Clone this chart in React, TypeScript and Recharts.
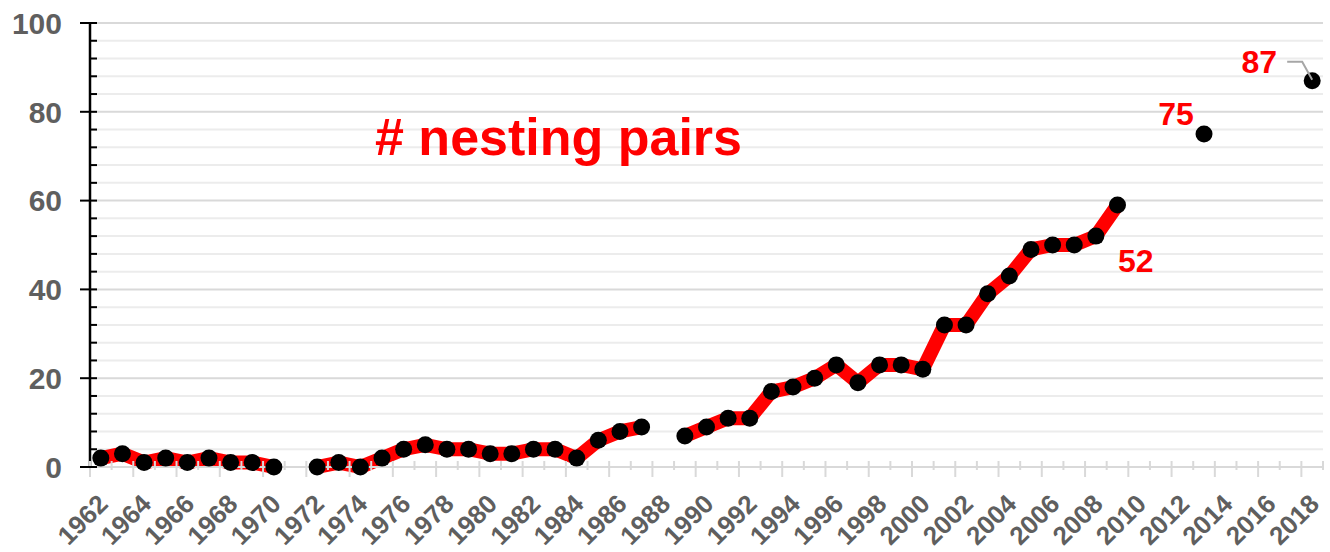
import { CartesianGrid, LabelList, Line, LineChart, XAxis, YAxis } from "recharts";

const years = [
  "1962", "1963", "1964", "1965", "1966", "1967", "1968", "1969", "1970", "1971",
  "1972", "1973", "1974", "1975", "1976", "1977", "1978", "1979", "1980", "1981",
  "1982", "1983", "1984", "1985", "1986", "1987", "1988", "1989", "1990", "1991",
  "1992", "1993", "1994", "1995", "1996", "1997", "1998", "1999", "2000", "2001",
  "2002", "2003", "2004", "2005", "2006", "2007", "2008", "2009", "2010", "2011",
  "2012", "2013", "2014", "2015", "2016", "2017", "2018",
];

// nesting pairs per year, null = no count that year
const pairs: Array<number | null> = [
  2, 3, 1, 2, 1, 2, 1, 1, 0, null,
  0, 1, 0, 2, 4, 5, 4, 4, 3, 3,
  4, 4, 2, 6, 8, 9, null, 7, 9, 11,
  11, 17, 18, 20, 23, 19, 23, 23, 22, 32,
  32, 39, 43, 49, 50, 50, 52, 59, null, null,
  null, 75, null, null, null, null, 87,
];

const yTicks = [0, 4, 8, 12, 16, 20, 24, 28, 32, 36, 40, 44, 48, 52, 56, 60, 64, 68, 72, 76, 80, 84, 88, 92, 96, 100];
const majorGrid = [20, 40, 60, 80, 100];
const minorGrid = [4, 8, 12, 16, 24, 28, 32, 36, 44, 48, 52, 56, 64, 68, 72, 76, 84, 88, 92, 96];

const data = years.map((year, i) => ({ year, pairs: pairs[i] }));

const FONT = "'Liberation Sans', Arial, sans-serif";
const GRAY = "#5f5f5f";
const RED = "#ff0000";

// where the value labels sit relative to their dot
const labelPlacement: Record<string, { dx: number; dy: number; leader?: boolean }> = {
  "2008": { dx: 40, dy: 36 },
  "2013": { dx: -28, dy: -9 },
  "2018": { dx: -53, dy: -8, leader: true },
};

function YTick({ x, y, payload }: any) {
  const major = payload.value % 20 === 0;
  return (
    <g>
      <line x1={major ? x - 10 : x} x2={x + 7} y1={y} y2={y} stroke="#000" strokeWidth={2} />
      {major && (
        <text x={x - 28} y={y} dy="0.36em" textAnchor="end" fill={GRAY}
          style={{ fontFamily: FONT, fontWeight: 700, fontSize: 30 }}>
          {payload.value}
        </text>
      )}
    </g>
  );
}

function XTick({ x, y, payload, index }: any) {
  const half = payload.offset ?? 0;
  const even = index % 2 === 0;
  const last = index === years.length - 1;
  const lx = x + 2;
  const ly = y + 32;
  return (
    <g>
      <line x1={x - half} x2={x - half} y1={y - 6} y2={even ? y + 10 : y + 3} stroke="#d9d9d9" strokeWidth={2} />
      {last && (
        <line x1={x + half} x2={x + half} y1={y - 6} y2={even ? y + 3 : y + 10} stroke="#d9d9d9" strokeWidth={2} />
      )}
      {even && (
        <text x={lx} y={ly} dy="0.36em" textAnchor="end" fill={GRAY} transform={`rotate(-45, ${lx}, ${ly})`}
          style={{ fontFamily: FONT, fontWeight: 700, fontSize: 26 }}>
          {payload.value}
        </text>
      )}
    </g>
  );
}

function PointLabel(props: any) {
  const { index, value } = props;
  const place = labelPlacement[years[index]];
  if (!place || value == null) return null;
  const x = props.x ?? props.viewBox?.x;
  const y = props.y ?? props.viewBox?.y;
  return (
    <g>
      {place.leader && (
        <polyline points={`${x - 25},${y - 19} ${x - 10},${y - 19} ${x},${y - 1}`}
          fill="none" stroke="#a6a6a6" strokeWidth={2} />
      )}
      <text x={x + place.dx} y={y + place.dy} textAnchor="middle" fill={RED}
        style={{ fontFamily: FONT, fontWeight: 700, fontSize: 32 }}>
        {value}
      </text>
    </g>
  );
}

export default function App() {
  return (
    <div style={{ position: "relative", width: 1330, height: 552 }}>
      <style>{"body{margin:0}"}</style>
      <LineChart width={1330} height={552} data={data} margin={{ top: 23, right: 7, bottom: 0, left: 0 }}>
        <CartesianGrid vertical={false} horizontalValues={minorGrid} stroke="#ececec" strokeWidth={2} />
        <CartesianGrid vertical={false} horizontalValues={majorGrid} stroke="#d9d9d9" strokeWidth={2} />
        <XAxis
          dataKey="year"
          type="category"
          scale="band"
          interval={0}
          height={85}
          tickSize={0}
          tickMargin={0}
          tickLine={false}
          axisLine={{ stroke: "#d9d9d9", strokeWidth: 2 }}
          tick={<XTick />}
        />
        <YAxis
          type="number"
          domain={[0, 100]}
          ticks={yTicks}
          interval={0}
          width={90}
          tickSize={0}
          tickMargin={0}
          tickLine={false}
          axisLine={{ stroke: "#000", strokeWidth: 2.5 }}
          tick={<YTick />}
        />
        <Line
          dataKey="pairs"
          stroke={RED}
          strokeWidth={14}
          strokeLinejoin="round"
          connectNulls={false}
          dot={{ r: 8.5, fill: "#000", stroke: "#000", strokeWidth: 0 }}
          activeDot={false}
          isAnimationActive={false}
        >
          <LabelList dataKey="pairs" content={<PointLabel />} />
        </Line>
      </LineChart>
      <svg width={1330} height={552} style={{ position: "absolute", left: 0, top: 0, pointerEvents: "none" }}>
        <text x={375} y={155} fill={RED} style={{ fontFamily: FONT, fontWeight: 700, fontSize: 52 }}>
          # nesting pairs
        </text>
      </svg>
    </div>
  );
}
